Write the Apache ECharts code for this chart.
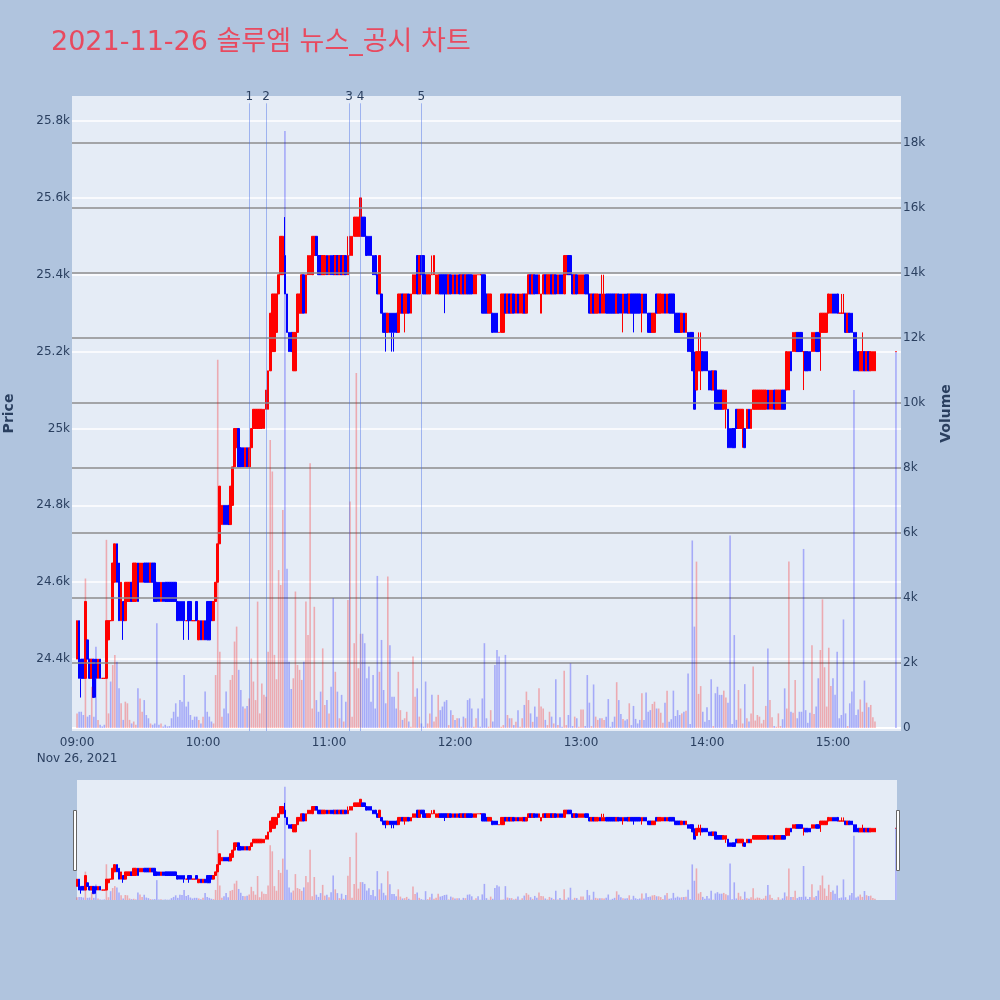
<!DOCTYPE html>
<html><head><meta charset="utf-8">
<script src="https://cdn.jsdelivr.net/npm/echarts@6/dist/echarts.min.js"></script>
<style>html,body{margin:0;padding:0;background:#b0c4de}#c{width:1000px;height:1000px}</style>
</head><body><div id="c"></div>
<script>
// ---- time categories: one-minute bars 09:00..15:20 plus the 15:30 closing auction
const times = [];
for (let k = 0; k <= 380; k++) {
  const h = 9 + Math.floor(k / 60), mm = k % 60;
  times.push(String(h).padStart(2, '0') + ':' + String(mm).padStart(2, '0'));
}
times.push('15:30');

const opens = [
24400,24500,24400,24400,24350,24450,24400,24350,24400,24400,
24350,24400,24350,24350,24350,24450,24500,24500,24600,24700,
24650,24500,24550,24500,24550,24550,24600,24550,24550,24650,
24600,24600,24650,24650,24650,24600,24650,24650,24600,24600,
24550,24600,24600,24600,24600,24600,24600,24600,24550,24550,
24550,24550,24500,24550,24550,24500,24500,24550,24450,24500,
24450,24500,24550,24550,24550,24500,24550,24600,24700,24750,
24800,24800,24800,24750,24800,24900,24950,25000,24950,24950,
24900,24950,24900,24950,25000,25000,25000,25000,25000,25000,
25050,25050,25150,25200,25200,25250,25350,25400,25400,25450,
25350,25250,25250,25150,25150,25250,25300,25300,25400,25300,
25400,25400,25400,25450,25500,25450,25450,25400,25400,25450,
25400,25450,25450,25400,25450,25400,25450,25400,25450,25400,
25450,25450,25500,25500,25500,25500,25550,25550,25500,25500,
25500,25450,25450,25400,25350,25350,25300,25300,25250,25300,
25300,25300,25300,25250,25300,25350,25300,25300,25350,25300,
25350,25350,25450,25350,25450,25450,25400,25350,25350,25400,
25400,25350,25350,25400,25400,25400,25400,25350,25400,25350,
25400,25350,25400,25350,25400,25350,25400,25400,25400,25350,
25350,25400,25400,25400,25400,25350,25300,25300,25300,25300,
25300,25250,25250,25250,25350,25300,25350,25300,25350,25300,
25350,25300,25300,25350,25300,25350,25400,25350,25400,25400,
25350,25300,25350,25400,25350,25350,25400,25350,25400,25350,
25400,25400,25350,25400,25450,25450,25400,25350,25400,25350,
25350,25350,25400,25400,25350,25300,25350,25300,25300,25350,
25300,25300,25350,25350,25350,25350,25350,25300,25350,25350,
25300,25350,25350,25300,25350,25350,25350,25350,25350,25300,
25350,25350,25300,25300,25250,25250,25350,25300,25300,25300,
25350,25300,25350,25350,25350,25300,25300,25300,25250,25300,
25250,25250,25250,25250,25150,25100,25150,25150,25200,25200,
25200,25150,25150,25100,25150,25100,25100,25100,25050,25050,
25050,25000,25000,25000,25050,25000,25000,25000,25000,25000,
25050,25000,25050,25050,25050,25050,25050,25050,25050,25100,
25050,25050,25100,25050,25050,25050,25100,25100,25100,25100,
25200,25200,25200,25250,25250,25250,25200,25200,25200,25200,
25200,25200,25250,25250,25250,25250,25250,25250,25300,25300,
25350,25350,25350,25300,25300,25300,25300,25250,25300,25300,
25250,25250,25200,25150,25150,25200,25150,25200,25150,25150,
25150,25200];

const closes = [
24500,24350,24350,24350,24550,24400,24350,24400,24300,24350,
24400,24350,24350,24350,24500,24500,24500,24650,24700,24600,
24500,24600,24500,24600,24600,24600,24550,24650,24650,24550,
24650,24650,24600,24600,24600,24650,24600,24550,24550,24550,
24600,24550,24550,24550,24550,24550,24550,24550,24500,24500,
24500,24500,24500,24500,24500,24500,24500,24500,24500,24450,
24500,24450,24450,24450,24500,24550,24600,24700,24850,24800,
24750,24750,24750,24850,24900,25000,25000,24900,24900,24900,
24950,24900,24950,25000,25050,25050,25050,25050,25050,25050,
25100,25150,25300,25350,25350,25350,25400,25500,25500,25350,
25250,25200,25200,25250,25250,25350,25350,25400,25300,25400,
25450,25450,25500,25500,25450,25400,25400,25450,25450,25400,
25450,25400,25400,25450,25400,25450,25400,25450,25400,25450,
25500,25500,25550,25550,25550,25600,25500,25500,25450,25450,
25450,25400,25400,25350,25450,25300,25250,25250,25300,25250,
25250,25250,25250,25350,25350,25300,25350,25350,25300,25350,
25400,25400,25350,25450,25400,25350,25350,25400,25400,25400,
25450,25400,25400,25350,25350,25350,25350,25400,25350,25400,
25350,25400,25350,25400,25350,25400,25350,25350,25350,25400,
25400,25400,25400,25300,25300,25300,25350,25350,25250,25250,
25250,25250,25350,25350,25300,25350,25300,25350,25300,25350,
25300,25350,25350,25300,25350,25400,25350,25400,25350,25350,
25400,25350,25400,25350,25400,25400,25350,25400,25350,25400,
25350,25350,25450,25450,25400,25400,25350,25400,25350,25400,
25400,25400,25350,25350,25300,25350,25300,25350,25350,25300,
25350,25350,25300,25300,25300,25300,25300,25350,25300,25300,
25350,25300,25300,25350,25300,25300,25300,25300,25300,25350,
25300,25300,25250,25250,25300,25300,25300,25350,25350,25350,
25300,25350,25300,25300,25300,25250,25250,25250,25300,25250,
25300,25200,25200,25150,25050,25200,25200,25200,25150,25150,
25150,25100,25100,25150,25050,25050,25050,25050,25100,25100,
24950,24950,24950,24950,25000,25050,25050,25050,24950,25050,
25000,25050,25100,25100,25100,25100,25100,25100,25100,25050,
25100,25100,25050,25100,25100,25100,25050,25050,25200,25200,
25150,25250,25250,25200,25200,25200,25200,25150,25150,25150,
25250,25250,25200,25200,25300,25300,25300,25300,25350,25350,
25300,25300,25300,25300,25300,25300,25250,25300,25250,25250,
25150,25150,25150,25200,25200,25150,25200,25150,25200,25200,
25200,25200];

const lows = [
24400,24350,24300,24350,24350,24400,24350,24350,24300,24300,
24350,24350,24350,24350,24350,24450,24500,24500,24600,24600,
24500,24500,24450,24500,24550,24550,24550,24550,24550,24550,
24600,24600,24600,24600,24600,24600,24600,24550,24550,24550,
24550,24550,24550,24550,24550,24550,24550,24550,24500,24500,
24500,24450,24500,24450,24500,24500,24500,24500,24450,24450,
24450,24450,24450,24450,24500,24500,24550,24600,24700,24750,
24750,24750,24750,24750,24800,24900,24950,24900,24900,24900,
24900,24900,24900,24950,25000,25000,25000,25000,25000,25000,
25050,25050,25150,25200,25200,25250,25350,25400,25400,25350,
25250,25200,25200,25150,25150,25250,25300,25300,25300,25300,
25400,25400,25400,25450,25450,25400,25400,25400,25400,25400,
25400,25400,25400,25400,25400,25400,25400,25400,25400,25400,
25450,25450,25500,25500,25500,25500,25500,25500,25450,25450,
25450,25400,25400,25350,25350,25300,25250,25200,25250,25250,
25200,25200,25250,25250,25300,25300,25250,25300,25300,25300,
25350,25350,25350,25350,25400,25350,25350,25350,25350,25400,
25400,25350,25350,25350,25350,25300,25350,25350,25350,25350,
25350,25350,25350,25350,25350,25350,25350,25350,25350,25350,
25350,25400,25400,25300,25300,25300,25300,25300,25250,25250,
25250,25250,25250,25250,25300,25300,25300,25300,25300,25300,
25300,25300,25300,25300,25300,25350,25350,25350,25350,25350,
25350,25300,25350,25350,25350,25350,25350,25350,25350,25350,
25350,25350,25350,25400,25400,25400,25350,25350,25350,25350,
25350,25350,25350,25350,25300,25300,25300,25300,25300,25300,
25300,25300,25300,25300,25300,25300,25300,25300,25300,25300,
25250,25300,25300,25300,25300,25250,25300,25300,25300,25250,
25300,25300,25250,25250,25250,25250,25300,25300,25300,25300,
25300,25300,25300,25300,25300,25250,25250,25250,25250,25250,
25250,25200,25200,25150,25050,25100,25150,25100,25150,25150,
25150,25100,25100,25100,25050,25050,25050,25050,25050,25000,
24950,24950,24950,24950,25000,25000,25000,24950,24950,25000,
25000,25000,25050,25050,25050,25050,25050,25050,25050,25050,
25050,25050,25050,25050,25050,25050,25050,25050,25100,25100,
25150,25200,25200,25200,25200,25200,25100,25150,25150,25150,
25200,25200,25200,25200,25150,25250,25250,25250,25300,25300,
25300,25300,25300,25300,25300,25300,25250,25250,25250,25250,
25150,25150,25150,25150,25150,25150,25150,25150,25150,25150,
25150,25200];

const highs = [
24500,24500,24400,24400,24550,24450,24400,24400,24400,24400,
24400,24400,24350,24350,24500,24500,24500,24650,24700,24700,
24650,24600,24550,24600,24600,24600,24600,24650,24650,24650,
24650,24650,24650,24650,24650,24650,24650,24650,24600,24600,
24600,24600,24600,24600,24600,24600,24600,24600,24550,24550,
24550,24550,24500,24550,24550,24500,24500,24550,24500,24500,
24500,24500,24550,24550,24550,24550,24600,24700,24850,24800,
24800,24800,24800,24850,24900,25000,25000,25000,24950,24950,
24950,24950,24950,25000,25050,25050,25050,25050,25050,25050,
25100,25150,25300,25350,25350,25350,25400,25500,25500,25550,
25350,25250,25250,25250,25250,25350,25350,25400,25400,25400,
25450,25450,25500,25500,25500,25450,25450,25450,25450,25450,
25450,25450,25450,25450,25450,25450,25450,25450,25450,25500,
25500,25500,25550,25550,25550,25600,25550,25550,25500,25500,
25500,25450,25450,25400,25450,25350,25300,25300,25300,25300,
25300,25300,25300,25350,25350,25350,25350,25350,25350,25350,
25400,25400,25450,25450,25450,25450,25400,25400,25400,25450,
25450,25400,25400,25400,25400,25400,25400,25400,25400,25400,
25400,25400,25400,25400,25400,25400,25400,25400,25400,25400,
25400,25400,25400,25400,25400,25350,25350,25350,25300,25300,
25300,25250,25350,25350,25350,25350,25350,25350,25350,25350,
25350,25350,25350,25350,25350,25400,25400,25400,25400,25400,
25400,25350,25400,25400,25400,25400,25400,25400,25400,25400,
25400,25400,25450,25450,25450,25450,25400,25400,25400,25400,
25400,25400,25400,25400,25350,25350,25350,25350,25350,25350,
25400,25400,25350,25350,25350,25350,25350,25350,25350,25350,
25350,25350,25350,25350,25350,25350,25350,25350,25350,25350,
25350,25350,25300,25300,25300,25300,25350,25350,25350,25350,
25350,25350,25350,25350,25350,25300,25300,25300,25300,25300,
25300,25250,25250,25250,25200,25200,25250,25250,25200,25200,
25200,25150,25150,25150,25150,25100,25100,25100,25100,25100,
25050,25000,25000,25000,25050,25050,25050,25050,25000,25050,
25050,25050,25100,25100,25100,25100,25100,25100,25100,25100,
25100,25100,25100,25100,25100,25100,25100,25100,25200,25200,
25200,25250,25250,25250,25250,25250,25200,25200,25200,25200,
25250,25250,25250,25250,25300,25300,25300,25300,25350,25350,
25350,25350,25350,25300,25350,25350,25300,25300,25300,25300,
25250,25250,25200,25200,25250,25200,25200,25200,25200,25200,
25200,25200];

const volumes = [
450,500,500,400,4600,350,400,1270,350,2500,
250,100,50,100,5790,450,1430,1940,2250,2040,
1220,760,250,810,760,250,140,200,100,1220,
910,500,860,400,300,140,100,140,3220,100,
140,50,100,50,60,300,500,760,350,860,
810,1630,660,810,400,250,350,350,250,140,
350,1120,500,350,200,140,1630,11330,2350,350,
600,1120,450,1480,1630,2660,3120,1790,1170,660,
600,680,910,2140,1430,860,3890,450,1370,1020,
960,2350,8860,7890,2250,1500,4860,4400,6710,18370,
4900,2040,1200,1530,4200,1940,1790,1480,2040,3890,
2860,8150,600,3730,860,500,1120,2450,710,860,
450,1270,3990,1730,1120,300,1020,200,810,3940,
6970,350,2610,10920,1840,2900,2900,2610,1530,1890,
810,1630,600,4680,1730,2710,1170,760,4660,2550,
960,960,600,1730,550,250,300,500,200,40,
2200,960,1220,350,140,40,1430,140,450,1020,
200,350,1020,550,660,810,860,90,550,400,
250,300,300,40,350,300,860,910,600,40,
300,600,40,910,2610,300,40,550,200,1940,
2400,2200,40,90,2250,400,300,300,90,190,
550,40,300,710,1120,860,450,190,660,350,
1220,660,600,250,90,500,350,140,1500,90,
330,40,1760,90,400,1990,60,350,300,40,
570,570,60,1630,780,60,1340,350,250,300,
300,250,350,890,40,190,350,1410,860,430,
280,230,270,760,90,680,280,140,250,1070,
250,1090,500,550,740,810,600,600,470,160,
780,1150,190,270,1150,370,550,400,450,500,
530,1680,120,5770,3120,5120,1050,1290,500,190,
640,250,1500,60,1070,1270,1020,1020,1150,940,
780,5920,120,2860,250,1170,600,140,1350,300,
200,450,1890,230,400,350,140,250,680,2450,
860,330,60,40,450,60,270,1220,600,5120,
500,470,1480,300,500,500,5510,550,160,470,
2550,430,660,1530,2400,3960,1870,660,2470,1290,
1530,1020,2350,300,400,3340,450,60,760,1120,
10400,400,570,880,500,1460,780,640,710,330,
200,11570];

const priceTicks = [24400, 24600, 24800, 25000, 25200, 25400, 25600, 25800];
const volumeTicks = [2000, 4000, 6000, 8000, 10000, 12000, 14000, 16000, 18000];
const hourTicks = ['09:00', '10:00', '11:00', '12:00', '13:00', '14:00', '15:00'];
const newsTimes = ['10:22', '10:30', '11:09:30', '11:15', '11:44'];
const newsLabels = ['1', '2', '3', '4', '5'];
const titleText = '2021-11-26 솔루엠 뉴스_공시 차트';
const dateLabel = 'Nov 26, 2021';

// ---- helpers
function toMin(t) {
  const p = t.split(':').map(Number);
  return p[0] * 60 + p[1] + (p[2] || 0) / 60 - 540;
}
const xs = times.map(toMin);
const candleData = xs.map((x, i) => [x, opens[i], closes[i], lows[i], highs[i]]);
const volData = xs.map((x, i) => ({
  value: [x, volumes[i]],
  itemStyle: { color: closes[i] > opens[i] ? 'rgba(255,0,0,0.28)' : 'rgba(0,0,255,0.28)' }
}));

const PMIN = 24213, PMAX = 25865, VMIN = -92, VMAX = 19446;
const FONT = "'DejaVu Sans', 'Noto Sans CJK KR', sans-serif";
const TXT = '#2a3f5f';

const chart = echarts.init(document.getElementById('c'), null, { renderer: 'canvas' });
const hourVals = hourTicks.map(toMin);

chart.setOption({
  backgroundColor: '#b0c4de',
  animation: false,
  title: {
    text: titleText, left: 46, top: 24,
    textStyle: { color: '#e84a5f', fontSize: 27, fontWeight: 'normal', fontFamily: FONT }
  },
  grid: [
    { left: 72, right: 99, top: 96, bottom: 269, show: true, backgroundColor: '#e5ecf6', borderWidth: 0,
      containLabel: false, outerBoundsMode: 'none' },
    { left: 77, right: 103, top: 780, height: 120, show: true, backgroundColor: '#e5ecf6', borderWidth: 0,
      containLabel: false, outerBoundsMode: 'none' }
  ],
  xAxis: [
    {
      type: 'value', gridIndex: 0, min: -2.4, max: 392.4, minInterval: 60, maxInterval: 60,
      axisLine: { show: false }, axisTick: { show: false }, splitLine: { show: false },
      axisLabel: {
        showMinLabel: false, showMaxLabel: false, color: TXT, fontSize: 12, fontFamily: FONT,
        lineHeight: 16, margin: 4,
        formatter: v => {
          const i = hourVals.indexOf(Math.round(v));
          if (i < 0) return '';
          return i === 0 ? hourTicks[i] + '\n' + dateLabel : hourTicks[i];
        }
      }
    },
    { type: 'value', gridIndex: 1, min: 0, max: 390.5, show: false }
  ],
  yAxis: [
    {
      type: 'value', gridIndex: 0, min: PMIN, max: PMAX, minInterval: 200, maxInterval: 200,
      name: 'Price', nameLocation: 'middle', nameGap: 56,
      nameTextStyle: { color: TXT, fontSize: 14, fontWeight: 'bold', fontFamily: FONT },
      axisLine: { show: false }, axisTick: { show: false }, splitLine: { show: false },
      axisLabel: {
        showMinLabel: false, showMaxLabel: false, color: TXT, fontSize: 12, fontFamily: FONT, margin: 2,
        formatter: v => (v / 1000) + 'k'
      }
    },
    {
      type: 'value', gridIndex: 0, position: 'right', min: VMIN, max: VMAX, minInterval: 2000, maxInterval: 2000,
      name: 'Volume', nameLocation: 'middle', nameGap: 38,
      nameTextStyle: { color: TXT, fontSize: 14, fontWeight: 'bold', fontFamily: FONT },
      axisLine: { show: false }, axisTick: { show: false }, splitLine: { show: false },
      axisLabel: {
        showMinLabel: false, showMaxLabel: false, color: TXT, fontSize: 12, fontFamily: FONT, margin: 2,
        formatter: v => v === 0 ? '0' : (v / 1000) + 'k'
      }
    },
    { type: 'value', gridIndex: 1, min: PMIN, max: PMAX, show: false },
    { type: 'value', gridIndex: 1, min: 0, max: VMAX, show: false }
  ],
  series: [
    { // price grid lines (white)
      type: 'line', xAxisIndex: 0, yAxisIndex: 0, data: [], z: 1,
      markLine: {
        z: 1, silent: true, symbol: 'none', label: { show: false },
        lineStyle: { color: '#ffffff', width: 1.6, type: 'solid' },
        data: priceTicks.map(v => ({ yAxis: v }))
      }
    },
    {
      type: 'candlestick', xAxisIndex: 0, yAxisIndex: 0, data: candleData, z: 2,
      barWidth: 2.2,
      itemStyle: { color: '#ff0000', color0: '#0000ff', borderColor: '#ff0000', borderColor0: '#0000ff', borderWidth: 1 }
    },
    { // volume grid lines (grey) + zero line
      type: 'line', xAxisIndex: 0, yAxisIndex: 1, data: [], z: 3,
      markLine: {
        z: 3, silent: true, symbol: 'none', label: { show: false },
        lineStyle: { color: '#8c8c8c', width: 1.5, type: 'solid' },
        data: volumeTicks.map(v => ({ yAxis: v })).concat([{ yAxis: 0, lineStyle: { color: '#ffffff', width: 2 } }])
      }
    },
    {
      type: 'bar', xAxisIndex: 0, yAxisIndex: 1, data: volData, z: 4, barWidth: 1.6
    },
    { // news markers
      type: 'line', xAxisIndex: 0, yAxisIndex: 0, data: [], z: 6,
      markLine: {
        z: 6, silent: true, symbol: 'none',
        lineStyle: { color: 'rgba(70,110,230,0.45)', width: 1, type: 'solid' },
        label: { show: true, position: 'end', distance: 0, color: TXT, fontSize: 12, fontFamily: FONT,
                 formatter: p => p.data.name },
        data: newsTimes.map((t, i) => [
          { name: newsLabels[i], coord: [toMin(t), PMIN] },
          { coord: [toMin(t), 25846] }
        ])
      }
    },
    { // range slider preview
      type: 'candlestick', xAxisIndex: 1, yAxisIndex: 2, data: candleData, z: 2, barWidth: 2.2,
      itemStyle: { color: '#ff0000', color0: '#0000ff', borderColor: '#ff0000', borderColor0: '#0000ff', borderWidth: 1 }
    },
    { type: 'bar', xAxisIndex: 1, yAxisIndex: 3, data: volData, z: 4, barWidth: 1.6 }
  ],
  graphic: [
    { type: 'rect', shape: { x: 73.5, y: 810.5, width: 3, height: 60 }, style: { fill: '#ffffff', stroke: '#666', lineWidth: 1 }, z: 100 },
    { type: 'rect', shape: { x: 896.5, y: 810.5, width: 3, height: 60 }, style: { fill: '#ffffff', stroke: '#666', lineWidth: 1 }, z: 100 }
  ]
});
</script>
</body></html>
